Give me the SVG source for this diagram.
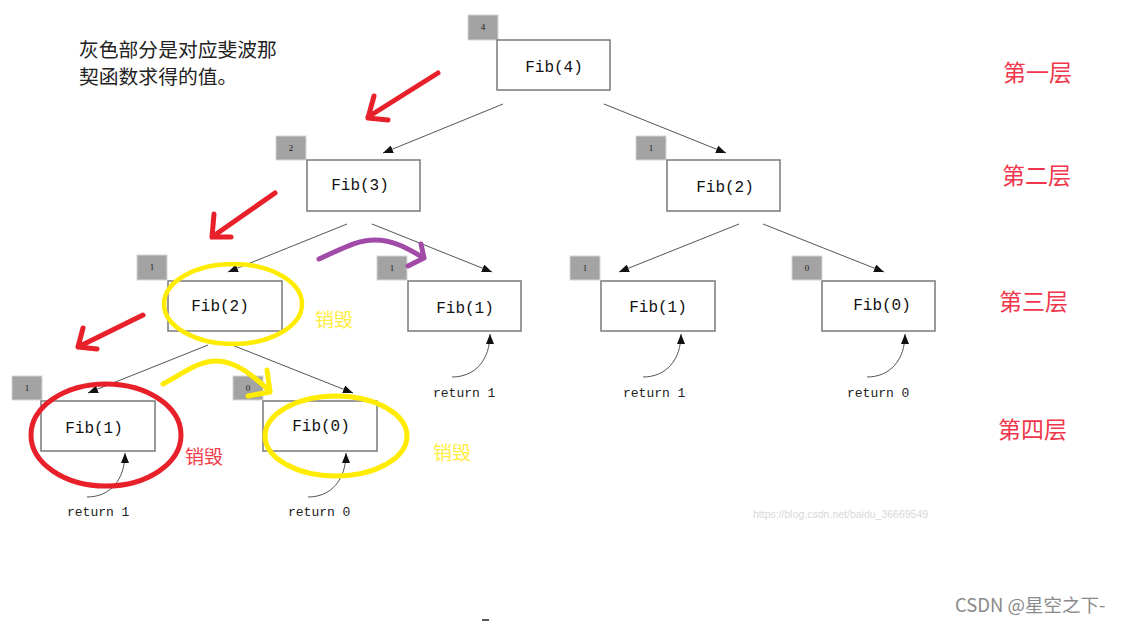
<svg xmlns="http://www.w3.org/2000/svg" width="1122" height="624" viewBox="0 0 1122 624">
<style>
.box{fill:#fff;stroke:#7a7a7a;stroke-width:1.5}
.tag{fill:#a3a3a3;stroke:#d6d6d6;stroke-width:1}
.tagt{font-family:"Liberation Serif",serif;font-size:9px;fill:#222;text-anchor:middle}
.lbl{font-family:"Liberation Mono",monospace;font-size:16px;fill:#111;text-anchor:middle}
.ret{font-family:"Liberation Mono",monospace;font-size:13px;fill:#222}
.edge{stroke:#555;stroke-width:1;fill:none;marker-end:url(#ah)}
.cn{font-family:"Noto Sans CJK SC",sans-serif}
.layer{font-family:"Noto Sans CJK SC",sans-serif;font-size:23px;fill:#f0364a}
.mark{fill:none;stroke-width:5;stroke-linecap:round;stroke-linejoin:round}
</style>
<defs>
<marker id="ah" viewBox="0 0 10 8" refX="10" refY="4" markerWidth="10" markerHeight="8" markerUnits="userSpaceOnUse" orient="auto">
<path d="M0,0 L10,4 L0,8 z" fill="#111"/>
</marker>
</defs>
<rect width="1122" height="624" fill="#fff"/>

<text class="cn" font-size="19.8" fill="#222" x="79" y="57">灰色部分是对应斐波那</text>
<text class="cn" font-size="19.8" fill="#222" x="79" y="84">契函数求得的值。</text>

<g id="connectors">
<path class="edge" d="M503,104 L383,153"/>
<path class="edge" d="M604,104 L726,153"/>
<path class="edge" d="M347,224 L228,272"/>
<path class="edge" d="M372,224 L492,272"/>
<path class="edge" d="M739,224 L619,272"/>
<path class="edge" d="M763,224 L884,272"/>
<path class="edge" d="M208,345 L88,393"/>
<path class="edge" d="M232,345 L353,393"/>
<path class="edge" d="M452,377 C475,377 490,360 490,334"/>
<path class="edge" d="M643,377 C666,377 681,360 681,334"/>
<path class="edge" d="M867,377 C890,377 905,360 905,334"/>
<path class="edge" d="M87,497 C110,497 125,480 125,453"/>
<path class="edge" d="M308,497 C331,497 346,480 346,453"/>
</g>

<g id="fib4">
<rect class="tag" x="468" y="15" width="30" height="25"/><text class="tagt" x="483" y="30">4</text>
<rect class="box" x="497" y="40" width="113" height="50"/><text class="lbl" x="554" y="72">Fib(4)</text>
</g>
<g id="fib3">
<rect class="tag" x="276" y="136" width="30" height="24"/><text class="tagt" x="291" y="151">2</text>
<rect class="box" x="307" y="160" width="113" height="51"/><text class="lbl" x="360" y="190">Fib(3)</text>
</g>
<g id="fib2r">
<rect class="tag" x="636" y="136" width="30" height="24"/><text class="tagt" x="651" y="151">1</text>
<rect class="box" x="667" y="160" width="113" height="51"/><text class="lbl" x="725" y="192">Fib(2)</text>
</g>
<g id="fib2l">
<rect class="tag" x="137" y="255" width="30" height="25"/><text class="tagt" x="152" y="270">1</text>
<rect class="box" x="168" y="281" width="114" height="50"/><text class="lbl" x="220" y="311">Fib(2)</text>
</g>
<g id="fib1m">
<rect class="tag" x="377" y="256" width="30" height="24"/><text class="tagt" x="392" y="271">1</text>
<rect class="box" x="408" y="281" width="113" height="50"/><text class="lbl" x="465" y="313">Fib(1)</text>
<text class="ret" x="433" y="397">return 1</text>
</g>
<g id="fib1r">
<rect class="tag" x="570" y="256" width="30" height="24"/><text class="tagt" x="585" y="271">1</text>
<rect class="box" x="601" y="281" width="114" height="50"/><text class="lbl" x="658" y="312">Fib(1)</text>
<text class="ret" x="623" y="397">return 1</text>
</g>
<g id="fib0r">
<rect class="tag" x="792" y="256" width="30" height="24"/><text class="tagt" x="807" y="271">0</text>
<rect class="box" x="822" y="281" width="113" height="50"/><text class="lbl" x="882" y="310">Fib(0)</text>
<text class="ret" x="847" y="397">return 0</text>
</g>
<g id="fib1bl">
<rect class="tag" x="12" y="376" width="30" height="24"/><text class="tagt" x="27" y="391">1</text>
<rect class="box" x="41" y="401" width="114" height="50"/><text class="lbl" x="94" y="433">Fib(1)</text>
<text class="ret" x="67" y="516">return 1</text>
</g>
<g id="fib0b">
<rect class="tag" x="233" y="376" width="30" height="24"/><text class="tagt" x="248" y="391">0</text>
<rect class="box" x="263" y="401" width="114" height="50"/><text class="lbl" x="321" y="431">Fib(0)</text>
<text class="ret" x="288" y="516">return 0</text>
</g>

<g id="layers">
<text class="layer" x="1003" y="81">第一层</text>
<text class="layer" x="1002" y="184">第二层</text>
<text class="layer" x="999" y="310">第三层</text>
<text class="layer" x="998" y="438">第四层</text>
</g>

<g id="annotations">
<path class="mark" stroke="#e8202a" d="M438,73 L368,117 M374,96 L368,118 L388,120"/>
<path class="mark" stroke="#e8202a" d="M275,193 L212,237 M214,214 L212,237 L231,237"/>
<path class="mark" stroke="#e8202a" d="M143,315 L78,347 M83,328 L78,347 L97,349"/>
<path class="mark" stroke="#a24aa8" d="M319,259 C340,250 355,240 375,240 C395,240 410,250 424,258 M421,244 L424,258 L408,266"/>
<path class="mark" stroke="#ffec00" d="M163,384 C185,372 200,360 218,361 C238,362 255,378 270,391 M267,370 L270,392 L248,396"/>
<ellipse cx="233" cy="304" rx="69" ry="40" fill="none" stroke="#ffec00" stroke-width="4.5"/>
<ellipse cx="106" cy="435" rx="75" ry="51" fill="none" stroke="#e8202a" stroke-width="5"/>
<ellipse cx="336" cy="436" rx="71" ry="40" fill="none" stroke="#ffec00" stroke-width="5"/>
<text class="cn" font-size="19" fill="#ffec40" x="315" y="327">销毁</text>
<text class="cn" font-size="19" fill="#f03c48" x="185" y="464">销毁</text>
<text class="cn" font-size="19" fill="#ffec40" x="433" y="460">销毁</text>
</g>

<text font-family="Liberation Sans, sans-serif" font-size="10.5" fill="#d8d8d8" x="753" y="518">https://blog.csdn.net/baidu_36669549</text>
<text class="cn" font-size="18.5" fill="#8a8a8a" x="955" y="612">CSDN @星空之下-</text>
<path d="M482,620 L489,620" stroke="#222" stroke-width="1.5"/>
</svg>
